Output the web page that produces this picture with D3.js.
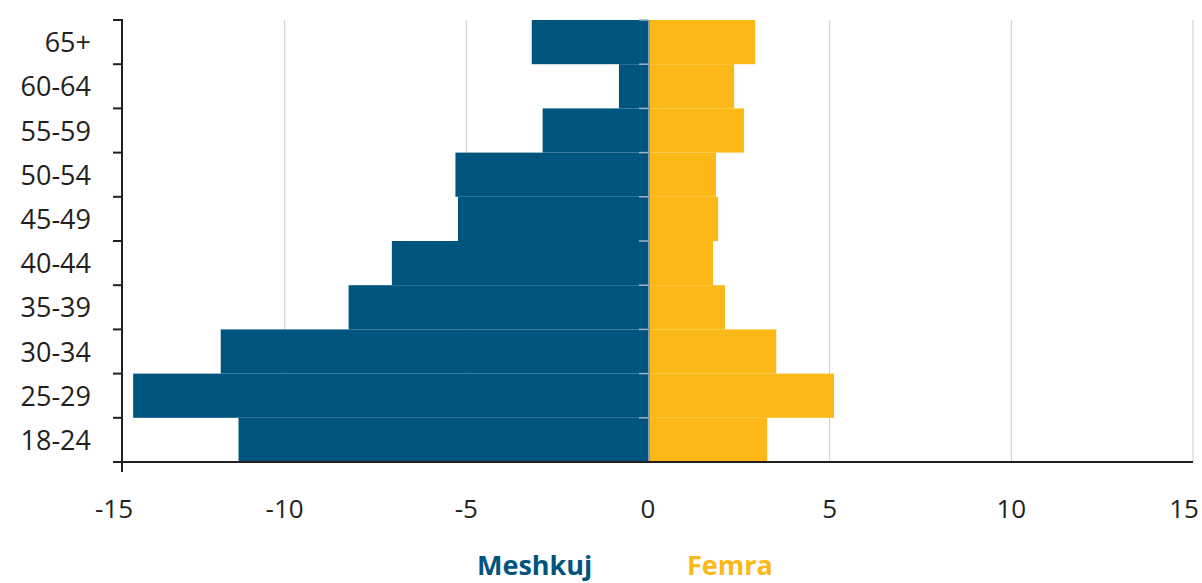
<!DOCTYPE html>
<html>
<head>
<meta charset="utf-8">
<script src="https://cdn.jsdelivr.net/npm/d3@7"></script>
<style>
  html, body { margin: 0; padding: 0; background: #fff; }
  svg { display: block; }
  text { font-family: "Open Sans", "Noto Sans", sans-serif; }
</style>
</head>
<body>
<svg id="chart" width="1202" height="583"></svg>
<script>
// Age groups, top to bottom
const categories = ["65+", "60-64", "55-59", "50-54", "45-49", "40-44", "35-39", "30-34", "25-29", "18-24"];
// Meshkuj (men), shown to the left as negative
const meshkuj = [3.2, 0.8, 2.9, 5.3, 5.23, 7.05, 8.24, 11.76, 14.17, 11.27];
// Femra (women), shown to the right
const femra = [2.95, 2.37, 2.64, 1.87, 1.93, 1.79, 2.12, 3.53, 5.12, 3.28];
const xTicks = [-15, -10, -5, 0, 5, 10, 15];
const seriesNames = ["Meshkuj", "Femra"];

const BLUE = "#00557f", YELLOW = "#fbb817", INK = "#231f20", GRID = "#cccccc";

const svg = d3.select("#chart");
const plotLeft = 122, plotTop = 20, plotBottom = 462, labelMaxX = 1184;

const x = d3.scaleLinear().domain([-15, 15]).range([103, 1193]);
const y = d3.scaleBand().domain(categories).range([plotTop, plotBottom]).padding(0);

// grid lines
svg.append("g").selectAll("line")
  .data(xTicks.filter(d => d !== 0 && d !== -15))
  .join("line")
  .attr("x1", d => x(d)).attr("x2", d => x(d))
  .attr("y1", plotTop).attr("y2", plotBottom)
  .attr("stroke", GRID).attr("stroke-width", 1);

// bars
svg.append("g").selectAll("rect")
  .data(categories.map((c, i) => ({c, v: meshkuj[i]})))
  .join("rect")
  .attr("x", d => x(-d.v)).attr("y", d => y(d.c))
  .attr("width", d => x(0) - x(-d.v)).attr("height", y.bandwidth())
  .attr("fill", BLUE);

svg.append("g").selectAll("rect")
  .data(categories.map((c, i) => ({c, v: femra[i]})))
  .join("rect")
  .attr("x", x(0)).attr("y", d => y(d.c))
  .attr("width", d => x(d.v) - x(0)).attr("height", y.bandwidth())
  .attr("fill", YELLOW);

// band boundaries
const bounds = categories.map(c => y(c)).concat([plotBottom]);

// zero axis with small ticks
svg.append("line")
  .attr("x1", x(0) + 1).attr("x2", x(0) + 1)
  .attr("y1", plotTop).attr("y2", plotBottom)
  .attr("stroke", "#7f9db3").attr("stroke-width", 2);
svg.append("g").selectAll("line")
  .data(bounds.slice(0, -1))
  .join("line")
  .attr("x1", x(0) - 9).attr("x2", x(0))
  .attr("y1", d => d).attr("y2", d => d)
  .attr("stroke", "#9fb3c3").attr("stroke-width", 1.5);

// left category axis
svg.append("line")
  .attr("x1", plotLeft).attr("x2", plotLeft)
  .attr("y1", plotTop - 1).attr("y2", plotBottom + 10)
  .attr("stroke", INK).attr("stroke-width", 2);
svg.append("g").selectAll("line")
  .data(bounds)
  .join("line")
  .attr("x1", plotLeft - 9).attr("x2", plotLeft)
  .attr("y1", d => d).attr("y2", d => d)
  .attr("stroke", INK).attr("stroke-width", 2);

// bottom axis line
svg.append("line")
  .attr("x1", plotLeft - 8).attr("x2", x(15))
  .attr("y1", plotBottom).attr("y2", plotBottom)
  .attr("stroke", INK).attr("stroke-width", 2);

// category labels
svg.append("g").selectAll("text")
  .data(categories)
  .join("text")
  .attr("x", 91)
  .attr("y", d => y(d) + y.bandwidth() / 2 + 10)
  .attr("text-anchor", "end")
  .attr("font-size", 27)
  .attr("fill", INK)
  .text(d => d);

// x tick labels
svg.append("g").selectAll("text")
  .data(xTicks)
  .join("text")
  .attr("x", d => d === -15 ? plotLeft - 8 : Math.min(x(d), labelMaxX))
  .attr("y", 518)
  .attr("text-anchor", "middle")
  .attr("font-size", 26)
  .attr("fill", INK)
  .text(d => d);

// legend
const legendX = [477, 687];
svg.append("g").selectAll("text")
  .data(seriesNames)
  .join("text")
  .attr("x", (d, i) => legendX[i])
  .attr("y", 575)
  .attr("font-size", 27)
  .attr("font-weight", 700)
  .attr("fill", (d, i) => i === 0 ? BLUE : YELLOW)
  .text(d => d);
</script>
</body>
</html>
